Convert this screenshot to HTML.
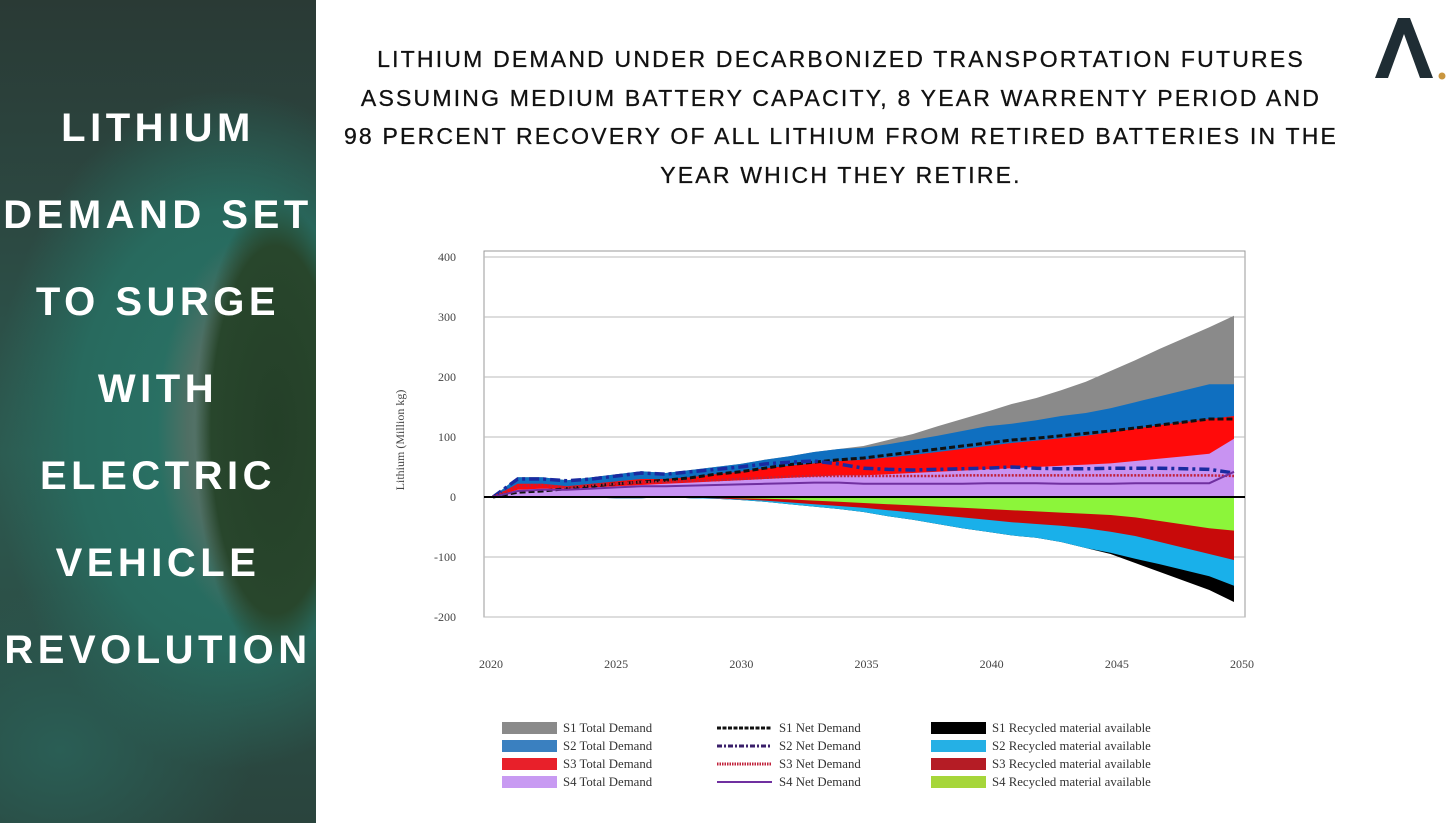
<!DOCTYPE html>
<html><head><meta charset="utf-8"><style>
body{margin:0;width:1456px;height:823px;overflow:hidden;background:#fff;font-family:"Liberation Sans",sans-serif;position:relative}
#left{position:absolute;left:0;top:0;width:316px;height:823px;overflow:hidden;
background:
radial-gradient(ellipse 80px 230px at 275px 430px,#243f28 0%,#28462c 80%,transparent 100%),
radial-gradient(ellipse 150px 300px at 255px 430px,#6d857a 0%,#4f6f64 45%,transparent 65%),
radial-gradient(ellipse 280px 400px at 230px 430px,#2a7568 0%,#286a5e 55%,transparent 85%),
radial-gradient(ellipse 240px 200px at 60px 750px,#2a5e55 0%,transparent 80%),
linear-gradient(180deg,#2a3a35 0%,#2c4a43 30%,#2d5a50 55%,#2b4d45 80%,#2a443d 100%);}
#left .t{position:absolute;left:0;width:316px;text-align:center;color:#fff;font-weight:bold;font-size:40px;letter-spacing:4.5px;line-height:40px}
#title{position:absolute;left:336px;width:1010px;top:40px;text-align:center;font-size:23px;letter-spacing:2.2px;line-height:38.7px;color:#111;-webkit-text-stroke:0.3px #111}
</style></head><body>
<div id="left">
<div class="t" style="top:108px">LITHIUM</div>
<div class="t" style="top:195px">DEMAND SET</div>
<div class="t" style="top:282px">TO SURGE</div>
<div class="t" style="top:369px">WITH</div>
<div class="t" style="top:456px">ELECTRIC</div>
<div class="t" style="top:543px">VEHICLE</div>
<div class="t" style="top:630px">REVOLUTION</div>
</div>
<div id="title">LITHIUM DEMAND UNDER DECARBONIZED TRANSPORTATION FUTURES<br>ASSUMING MEDIUM BATTERY CAPACITY, 8 YEAR WARRENTY PERIOD AND<br>98 PERCENT RECOVERY OF ALL LITHIUM FROM RETIRED BATTERIES IN THE<br>YEAR WHICH THEY RETIRE.</div>
<svg style="position:absolute;left:1370px;top:14px" width="80" height="68">
<polygon points="5,64 28,4 40,4 63,64 50,64 34,20 18,64" fill="#1f2d34"/>
<circle cx="72" cy="62" r="3.5" fill="#c9963f"/>
</svg>
<svg id="chart" style="position:absolute;left:0;top:0" width="1456" height="823"></svg>
<script>
const years=[2020,2021,2022,2023,2024,2025,2026,2027,2028,2029,2030,2031,2032,2033,2034,2035,2036,2037,2038,2039,2040,2041,2042,2043,2044,2045,2046,2047,2048,2049,2050];
const xTicks=[2020,2025,2030,2035,2040,2045,2050];
const yTicks=[400,300,200,100,0,-100,-200];
const s1Total=[0,33,33,28,33,38,43,40,45,50,55,62,68,75,80,85,95,105,118,130,142,155,165,178,192,210,228,247,265,283,302];
const s2Total=[0,33,33,28,33,38,43,40,45,50,55,62,68,75,80,82,88,95,102,110,118,122,128,135,140,148,158,168,178,188,188];
const s3Total=[0,22,22,18,22,26,30,30,33,38,42,48,52,56,60,62,66,70,75,80,85,90,94,98,102,108,114,120,125,130,135];
const s4Total=[0,12,14,14,16,18,20,22,24,26,28,30,32,34,36,36,38,40,42,44,46,48,50,52,54,56,60,64,68,72,97];
const s1Rec=[0,0,0,0,-1,-2,-2,0,-2,-3,-5,-8,-12,-16,-20,-25,-32,-38,-45,-52,-58,-64,-68,-75,-85,-95,-110,-125,-140,-155,-175];
const s2Rec=[0,0,0,0,-1,-2,-2,0,-2,-3,-5,-8,-12,-16,-20,-25,-32,-38,-45,-52,-58,-64,-68,-75,-85,-93,-103,-112,-122,-132,-148];
const s3Rec=[0,0,0,0,-1,-1,-1,0,-1,-2,-4,-6,-9,-12,-15,-18,-22,-26,-30,-34,-38,-42,-45,-48,-52,-58,-65,-75,-85,-95,-105];
const s4Rec=[0,0,0,0,0,-1,-1,0,-1,-1,-2,-3,-4,-6,-8,-10,-12,-14,-16,-18,-20,-22,-24,-26,-28,-30,-34,-40,-46,-52,-56];
const s1Net=[0,8,10,14,18,22,25,28,32,38,42,48,54,58,62,65,70,75,80,85,90,95,98,102,106,110,115,120,125,130,130];
const s2Net=[0,30,30,27,30,35,40,38,42,46,50,55,58,60,55,48,46,45,46,47,48,50,48,47,47,48,48,48,47,46,40];
const s3Net=[0,18,20,16,20,22,25,25,27,28,30,32,34,35,35,35,35,35,35,36,36,36,36,36,36,36,36,36,36,36,35];
const s4Net=[0,10,12,12,14,16,18,18,19,20,21,22,23,24,24,22,22,22,22,22,23,23,23,22,22,22,23,23,23,23,42];
const NS="http://www.w3.org/2000/svg";
const svg=document.getElementById('chart');
const x=y=>493+(y-2020)*(1234-493)/30;
const xl=y=>491+(y-2020)*(1242-491)/30;
const yS=v=>497-0.6*v;
function mk(t,a){const e=document.createElementNS(NS,t);for(const k in a)e.setAttribute(k,a[k]);svg.appendChild(e);return e;}
mk('rect',{x:484,y:251,width:761,height:366,fill:'#fff',stroke:'#999','stroke-width':1});
yTicks.forEach(v=>{
 const g=mk('line',{x1:484,x2:1245,y1:yS(v),y2:yS(v),stroke:'#bbb','stroke-width':1});
 
 
 const t=mk('text',{x:456,y:yS(v)+4,'text-anchor':'end','font-family':'Liberation Serif,serif','font-size':12,fill:'#444'});
 t.textContent=v;
 
 
});
xTicks.forEach(v=>{
 const t=mk('text',{x:xl(v),y:668,'text-anchor':'middle','font-family':'Liberation Serif,serif','font-size':12,fill:'#444'});
 t.textContent=v;
 
 
});
const yl=mk('text',{x:0,y:0,transform:'translate(404,440) rotate(-90)','text-anchor':'middle','font-family':'Liberation Serif,serif','font-size':12,fill:'#444'});
yl.textContent='Lithium (Million kg)';


function area(vals,col,name){
 let d='M'+x(years[0])+','+yS(0);
 vals.forEach((v,i)=>d+=' L'+x(years[i]).toFixed(1)+','+yS(v).toFixed(1));
 d+=' L'+x(years[years.length-1])+','+yS(0)+' Z';
 const p=mk('path',{d:d,fill:col});
 
 
}
function line(vals,col,w,dash,name){
 const d=vals.map((v,i)=>(i?'L':'M')+x(years[i]).toFixed(1)+','+yS(v).toFixed(1)).join(' ');
 const p=mk('path',{d:d,fill:'none',stroke:col,'stroke-width':w,'stroke-dasharray':dash});
 
 
}
area(s1Total,'#8a8a8a','s1-total-area');
area(s2Total,'#0f6fc0','s2-total-area');
area(s3Total,'#ff0a0a','s3-total-area');
area(s4Total,'#c893f2','s4-total-area');
area(s1Rec,'#000','s1-recycled-area');
area(s2Rec,'#19b0ea','s2-recycled-area');
area(s3Rec,'#c80a0a','s3-recycled-area');
area(s4Rec,'#8cf53a','s4-recycled-area');
line(s1Net,'#111',3,'6,3','s1-net-line');
line(s2Net,'#1a2aa0',3.5,'10,4,3,4','s2-net-line');
line(s3Net,'#c0203a',2.5,'2,1.5','s3-net-line');
line(s4Net,'#7030a0',2,'','s4-net-line');
mk('line',{x1:484,x2:1245,y1:yS(0),y2:yS(0),stroke:'#000','stroke-width':2});
const cols=[['S1 Total Demand','#8a8a8a'],['S2 Total Demand','#3a80c0'],['S3 Total Demand','#e8202a'],['S4 Total Demand','#c89af2']];
const cols3=[['S1 Recycled material available','#000'],['S2 Recycled material available','#25b0e5'],['S3 Recycled material available','#b51c25'],['S4 Recycled material available','#a6d63a']];
const cols2=[['S1 Net Demand','#111','4,1.5',3],['S2 Net Demand','#3a1f6a','5,2,2,2',3],['S3 Net Demand','#c0203a','1.5,1',3],['S4 Net Demand','#7030a0','',2]];
for(let i=0;i<4;i++){
 const ry=722+i*18;
 let r=mk('rect',{x:502,y:ry,width:55,height:12,fill:cols[i][1]});
 
 
 let t=mk('text',{x:563,y:ry+10,'font-family':'Liberation Serif,serif','font-size':12.8,fill:'#333'});t.textContent=cols[i][0];
 
 
 let l=mk('line',{x1:717,x2:772,y1:ry+6,y2:ry+6,stroke:cols2[i][1],'stroke-width':cols2[i][3],'stroke-dasharray':cols2[i][2]});
 
 
 t=mk('text',{x:779,y:ry+10,'font-family':'Liberation Serif,serif','font-size':12.8,fill:'#333'});t.textContent=cols2[i][0];
 
 
 r=mk('rect',{x:931,y:ry,width:55,height:12,fill:cols3[i][1]});
 
 
 t=mk('text',{x:992,y:ry+10,'font-family':'Liberation Serif,serif','font-size':12.8,fill:'#333'});t.textContent=cols3[i][0];
 
 
}
</script>
</body></html>
